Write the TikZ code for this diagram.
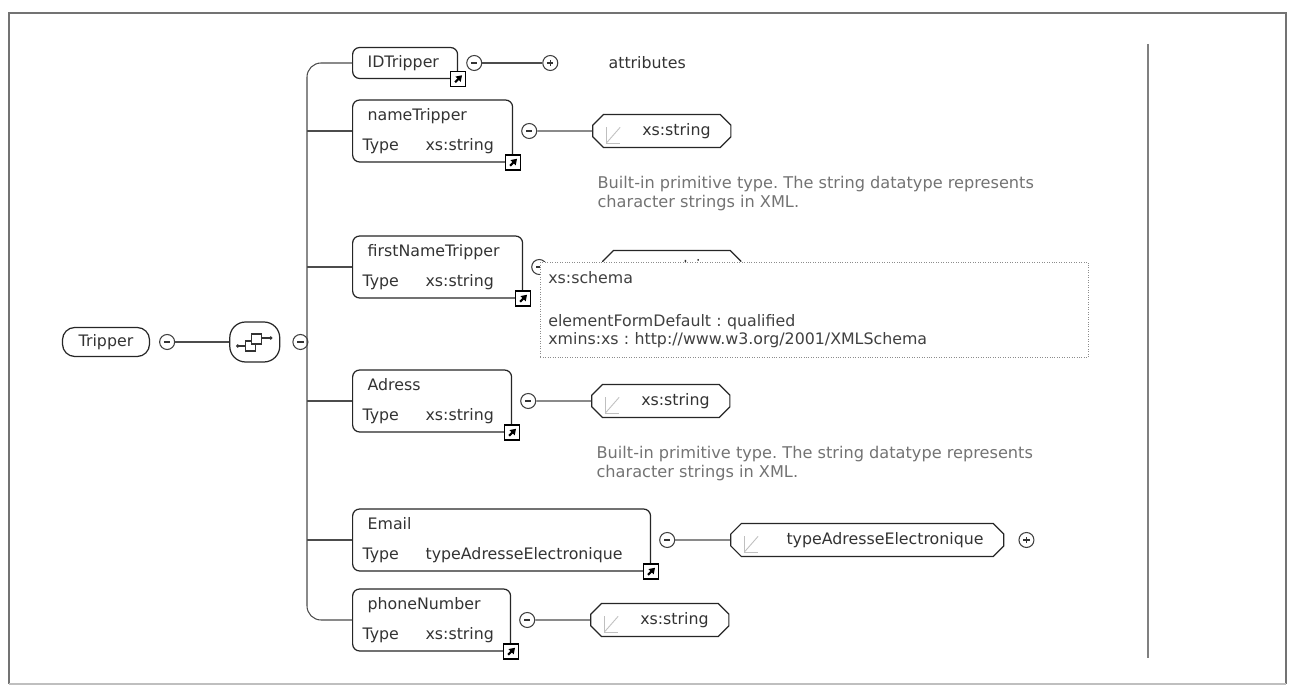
\documentclass[tikz,border=0pt]{standalone}
\usepackage{fontspec}
\setmainfont{DejaVu Sans}
\usepackage{tikz}
\usetikzlibrary{arrows.meta,positioning,calc,shapes.misc}
\frenchspacing

\newcommand{\elabel}[2]{\hspace*{1mm}#1\\[6pt]\makebox[1.26cm][l]{Type}#2}

\tikzset{
  link/.style={draw=black!70,line width=0.6pt},
  elem/.style={draw=black!85,line width=0.7pt,rounded corners=4pt,fill=white,
    inner xsep=0.2cm,align=left,text=black!80,minimum height=0.62cm,text width=#1},
  elemtwo/.style={elem=#1,minimum height=1.24cm},
  rootbox/.style={draw=black!85,line width=0.7pt,rounded corners=7pt,text=black!80,
    minimum width=1.74cm,minimum height=0.58cm},
  typebox/.style={draw=black!85,line width=0.7pt,chamfered rectangle,
    chamfered rectangle xsep=3pt,chamfered rectangle ysep=3pt,fill=white,
    inner xsep=0.3cm,inner ysep=0pt,minimum height=0.66cm,align=right,
    text width=#1,text=black!80,
    path picture={
      \begin{scope}[shift={([xshift=0.46cm]path picture bounding box.west)}]
        \draw[black!25,line width=0.5pt] (-7,-8) -- (-7,8) -- (7,8);
        \draw[black!25,line width=0.5pt] (-7,8) -- (7,-8);
      \end{scope}}},
  seqbox/.style={draw=black!85,line width=0.7pt,rounded corners=9pt,fill=white,
    minimum width=1cm,minimum height=0.8cm,inner sep=0pt,
    path picture={
      \begin{scope}[shift={(path picture bounding box.center)},sharp corners]
        \fill[black!80] (-17,4) circle (1.1pt);
        \draw[black!80,line width=0.6pt] (-17,4) -- (-9,4);
        \draw[black!80,line width=0.6pt,fill=white] (-9,-1) rectangle (1,9);
        \draw[black!80,line width=0.6pt,fill=white] (-3,-8) rectangle (7,2);
        \draw[black!80,line width=0.6pt] (7,-4) -- (15,-4);
        \fill[black!80] (16,-4) circle (1.1pt);
      \end{scope}}},
  sign/.style={circle,draw=black!75,line width=0.6pt,fill=white,minimum size=3mm,inner sep=0pt},
  minus/.style={sign,path picture={
      \draw[black!80,line width=0.6pt] ([xshift=-1.8pt]path picture bounding box.center)
        -- ([xshift=1.8pt]path picture bounding box.center);}},
  plus/.style={sign,path picture={
      \draw[black!80,line width=0.6pt] ([xshift=-1.8pt]path picture bounding box.center)
        -- ([xshift=1.8pt]path picture bounding box.center);
      \draw[black!80,line width=0.6pt] ([yshift=-1.8pt]path picture bounding box.center)
        -- ([yshift=1.8pt]path picture bounding box.center);}},
  linkicon/.style={draw=black,line width=0.8pt,fill=white,minimum size=3mm,inner sep=0pt,
    path picture={
      \draw[line width=1.2pt,-{Triangle[length=3.2pt,width=4pt]}]
        ([shift={(-1.8pt,-1.8pt)}]path picture bounding box.center)
        -- ([shift={(2.2pt,2.2pt)}]path picture bounding box.center);}},
  desc/.style={align=left,inner sep=0pt,text=black!55,font=\fontsize{9.2}{10.8}\selectfont},
  popup/.style={draw=black!45,densely dotted,fill=white,align=left,text=black!75,
    inner xsep=0.16cm,text width=10.64cm,minimum height=1.9cm,
    font=\fontsize{9}{10.3}\selectfont}
}

\begin{document}
\begin{tikzpicture}[x=0.02cm,y=-0.02cm,font=\fontsize{9}{10.8}\selectfont]
  \useasboundingbox (0,0) rectangle (1289,688);
  \draw[black!55,line width=1.6pt] (9,684) -- (9,13) -- (1286,13) -- (1286,684);
  \draw[black!25,line width=1pt] (9,684) -- (1286,684);
  \draw[black!50,line width=1.2pt] (1148,44) -- (1148,658);

  \node[rootbox] (tripper) at (106,342) {Tripper};
  \node[minus,right=1.8mm of tripper] (tripperMinus) {};
  \node[seqbox,right=10.8mm of tripperMinus] (seq) {};
  \node[minus,right=2.4mm of seq] (seqMinus) {};
  \coordinate (spine) at (307,342);
  \draw[link] (tripperMinus) -- (seq);
  \draw[link] (seqMinus) -- (spine);

  \node[elem=1.7cm,anchor=west] (idTripper) at (352,63) {\hspace*{1mm}IDTripper};
  \node[elemtwo=2.8cm,anchor=west] (nameTripper) at (352,131) {\elabel{nameTripper}{xs:string}};
  \node[elemtwo=3.0cm,anchor=west] (firstName) at (352,267) {\elabel{firstNameTripper}{xs:string}};
  \node[elemtwo=2.78cm,anchor=west] (adress) at (352,401) {\elabel{Adress}{xs:string}};
  \node[elemtwo=5.56cm,anchor=west] (email) at (352,540) {\elabel{Email}{typeAdresseElectronique}};
  \node[elemtwo=2.76cm,anchor=west] (phone) at (352,620) {\elabel{phoneNumber}{xs:string}};

  \draw[link,rounded corners=8pt] (idTripper.west) -| (spine) |- (phone.west);
  \foreach \row in {nameTripper,firstName,adress,email}
    \draw[link] (spine |- \row.west) -- (\row.west);

  \foreach \row in {idTripper,nameTripper,firstName,adress,email,phone} {
    \node[linkicon] (\row Link) at (\row.south east) {};
    \node[minus,right=1.6mm of \row] (\row Minus) {};
  }

  \node[plus,right=12mm of idTripperMinus] (attrPlus) {};
  \node[right=10mm of attrPlus,inner sep=0pt,text=black!80] (attrLabel) {attributes};
  \draw[link] (idTripperMinus) -- (attrPlus);

  \node[typebox=1.95cm,right=11mm of nameTripperMinus] (nameType) {xs:string};
  \node[typebox=1.95cm,right=11mm of firstNameMinus] (firstType) {xs:string};
  \node[typebox=1.95cm,right=11mm of adressMinus] (adressType) {xs:string};
  \node[typebox=4.65cm,right=11mm of emailMinus] (emailType) {typeAdresseElectronique};
  \node[typebox=1.95cm,right=11mm of phoneMinus] (phoneType) {xs:string};
  \node[plus,right=2.8mm of emailType] (emailPlus) {};
  \foreach \row/\typ in {nameTripper/nameType,firstName/firstType,adress/adressType,email/emailType,phone/phoneType}
    \draw[link] (\row Minus) -- (\typ);

  \node[desc,anchor=north west] (nameDesc) at ([shift={(5,45)}]nameType.west)
    {Built-in primitive type. The string datatype represents\\character strings in XML.};
  \node[desc,anchor=north west] (adressDesc) at ([shift={(5,45)}]adressType.west)
    {Built-in primitive type. The string datatype represents\\character strings in XML.};

  \node[popup,anchor=north west] (schemaTip) at (540,262)
    {xs:schema\\[14pt]elementFormDefault : qualified\\xmins:xs : http://www.w3.org/2001/XMLSchema};
\end{tikzpicture}
\end{document}
